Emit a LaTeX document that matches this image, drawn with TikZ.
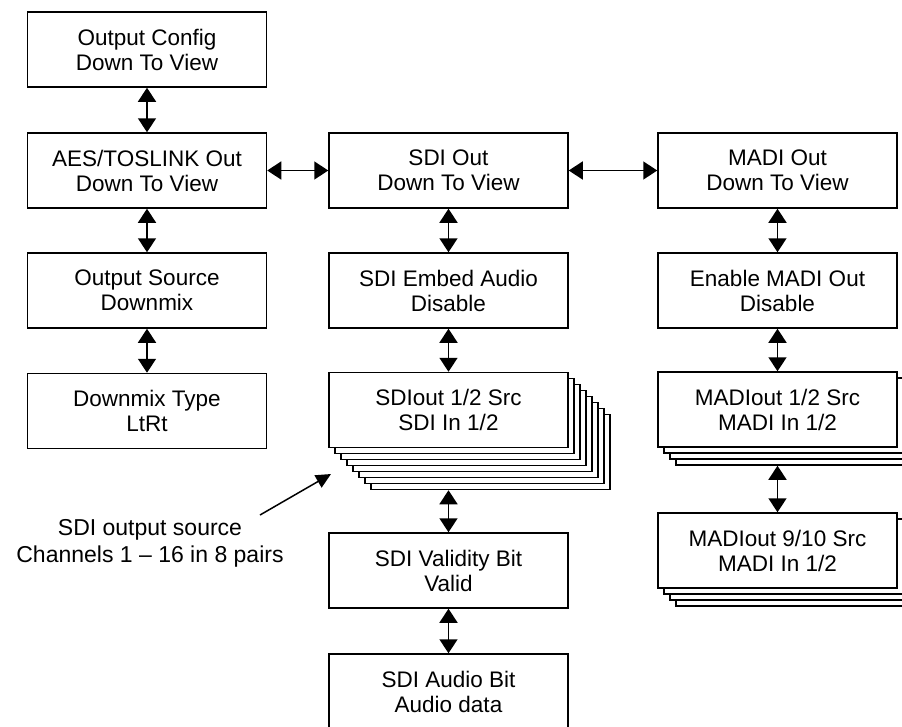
\documentclass[tikz,border=0pt]{standalone}
\usepackage{fontspec}
\setmainfont{Liberation Sans}
\usetikzlibrary{arrows.meta}

\tikzset{
  box/.style={draw, fill=white, line width=1.5pt, minimum width=239pt, minimum height=75pt,
    inner sep=0pt, align=center, font=\fontsize{22.5}{25}\selectfont},
  link/.style={{Triangle[length=14pt,width=18pt]}-{Triangle[length=14pt,width=18pt]}, line width=1.6pt},
  pointer/.style={-{Triangle[length=15pt,width=14pt]}, line width=1.5pt}
}

\begin{document}
\begin{tikzpicture}[x=1pt,y=-1pt]
  \useasboundingbox (0,0) rectangle (902,726);
  \clip (0,0) rectangle (902,726);
  % -=-=-=-=- LEFT COLUMN -=-=-=-=-
  \node[box] (cfg) at (147,49.5) {Output Config\\Down To View};
  \node[box] (aes) at (147,170.5) {AES/TOSLINK Out\\Down To View};
  \node[box] (src) at (147,290.5) {Output Source\\Downmix};
  \node[box] (dmx) at (147,411) {Downmix Type\\LtRt};

  % -=-=-=-=- SDI COLUMN -=-=-=-=-
  \node[box] (sdi) at (448.5,170.5) {SDI Out\\Down To View};
  \node[box] (emb) at (448.5,290.5) {SDI Embed Audio\\Disable};
  \node[box] (sdisrc7) at (490.5,452) {};
  \node[box] (sdisrc6) at (484.5,446) {};
  \node[box] (sdisrc5) at (478.5,440) {};
  \node[box] (sdisrc4) at (472.5,434) {};
  \node[box] (sdisrc3) at (466.5,428) {};
  \node[box] (sdisrc2) at (460.5,422) {};
  \node[box] (sdisrc1) at (454.5,416) {};
  \node[box] (sdisrc) at (448.5,410) {SDIout 1/2 Src\\SDI In 1/2};
  \node[box] (val) at (448.5,570.5) {SDI Validity Bit\\Valid};
  \node[box] (abit) at (448.5,691.5) {SDI Audio Bit\\Audio data};

  % -=-=-=-=- MADI COLUMN -=-=-=-=-
  \node[box] (madi) at (777.5,170.5) {MADI Out\\Down To View};
  \node[box] (ena) at (777.5,290.5) {Enable MADI Out\\Disable};
  \node[box] (madisrc3) at (795.5,427.5) {};
  \node[box] (madisrc2) at (789.5,421.5) {};
  \node[box] (madisrc1) at (783.5,415.5) {};
  \node[box] (madisrc) at (777.5,409.5) {MADIout 1/2 Src\\MADI In 1/2};
  \node[box] (madinine3) at (795.5,568.5) {};
  \node[box] (madinine2) at (789.5,562.5) {};
  \node[box] (madinine1) at (783.5,556.5) {};
  \node[box] (madinine) at (777.5,550.5) {MADIout 9/10 Src\\MADI In 1/2};

  % -=-=-=-=- CONNECTIONS -=-=-=-=-
  \draw[link] (cfg.south) -- (aes.north);
  \draw[link] (aes.south) -- (src.north);
  \draw[link] (src.south) -- (dmx.north);
  \draw[link] (aes.east) -- (sdi.west);
  \draw[link] (sdi.east) -- (madi.west);
  \draw[link] (sdi.south) -- (emb.north);
  \draw[link] (emb.south) -- (sdisrc.north);
  \draw[link] (sdisrc7.south -| val.north) -- (val.north);
  \draw[link] (val.south) -- (abit.north);
  \draw[link] (madi.south) -- (ena.north);
  \draw[link] (ena.south) -- (madisrc.north);
  \draw[link] (madisrc3.south -| madinine.north) -- (madinine.north);

  % -=-=-=-=- NOTE -=-=-=-=-
  \node[align=center, font=\fontsize{23}{27}\selectfont] (note) at (150,543.5)
    {SDI output source\\Channels 1 -- 16 in 8 pairs};
  \coordinate (notefrom) at (260,515);
  \coordinate (noteto) at (331,474);
  \draw[pointer] (notefrom) -- (noteto);
\end{tikzpicture}
\end{document}
